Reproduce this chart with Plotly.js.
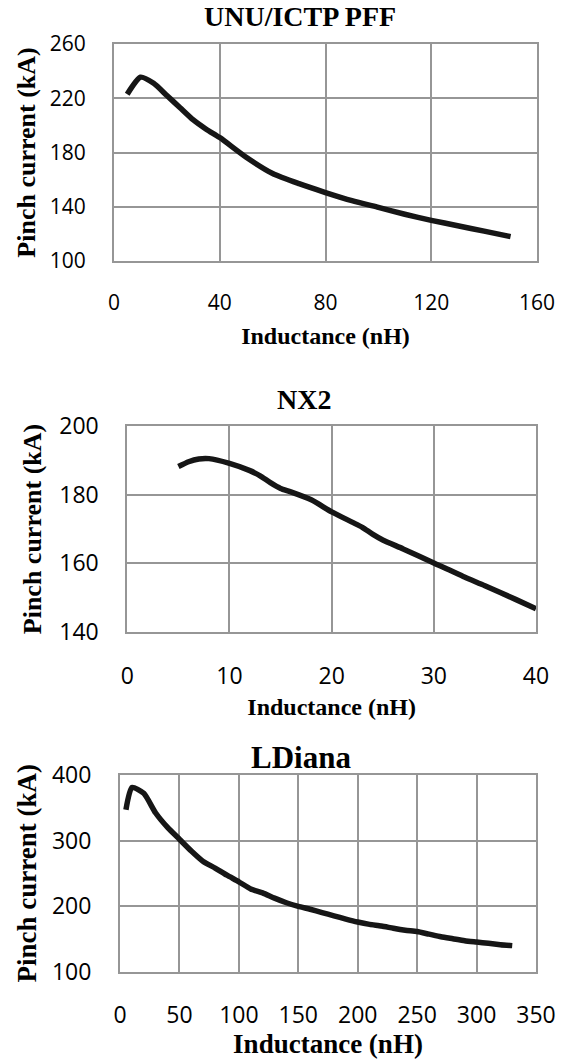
<!DOCTYPE html>
<html>
<head>
<meta charset="utf-8">
<script src="https://cdn.plot.ly/plotly-3.0.1.min.js"></script>
<style>html,body{margin:0;padding:0;background:#fff;}#chart{width:567px;height:1059px;}</style>
</head>
<body>
<div id="chart"></div>
<script>
// ---- Data ----
const titles = ["UNU/ICTP PFF", "NX2", "LDiana"];
const xTitle = "Inductance (nH)";
const yTitle = "Pinch current (kA)";

const unuL = [5, 10, 15, 20, 25, 30, 35, 40, 50, 60, 70, 80, 90, 100, 110, 120, 130, 140, 150];
const unuI = [223, 235.5, 231, 222, 213, 204, 197, 191, 176.5, 164.5, 157, 150.5, 144.5, 139.5, 134.5, 130, 126, 122, 118];

const nx2L = [5, 6, 7, 8, 10, 12, 13, 14, 15, 16, 18, 20, 22, 23, 24, 25, 27, 30, 33, 35, 38, 40];
const nx2I = [188.2, 189.6, 190.4, 190.5, 189.1, 187, 185.5, 183.5, 181.8, 180.8, 178.5, 175, 172, 170.5, 168.5, 166.8, 164.2, 160.1, 156, 153.5, 149.5, 146.8];

const ldL = [5, 10, 20, 30, 40, 50, 60, 70, 80, 90, 100, 110, 120, 130, 140, 150, 160, 170, 180, 190, 200, 210, 220, 230, 240, 250, 260, 270, 280, 290, 300, 310, 320, 330];
const ldI = [347, 381, 372, 342, 320, 302, 284, 268, 258, 247, 237, 226, 220, 212, 205, 199.5, 195, 190, 185, 180, 175.5, 172, 169.5, 166, 163, 161, 157, 153, 150, 147, 145, 143, 141, 139.5];

// ---- Layout helpers ----
const W = 567, H = 1059;
const gridCol = "#969696";
const serif = "Liberation Serif, Times New Roman, serif";
const sans = "Open Sans, sans-serif";

function xax(x0, x1, range, dtick, tickSize, titleSize, anchor, standoffTick, standoffTitle) {
  return {
    domain: [x0 / W, x1 / W], range: range, dtick: dtick, tick0: range[0],
    showgrid: true, gridcolor: gridCol, gridwidth: 2,
    showline: true, linecolor: gridCol, linewidth: 2, mirror: true,
    zeroline: false, ticks: "", ticklabelstandoff: standoffTick,
    tickfont: {family: sans, size: tickSize, color: "#000"},
    title: {text: xTitle, font: {family: serif, size: titleSize, color: "#000", weight: "bold"}, standoff: standoffTitle},
    anchor: anchor, automargin: false, fixedrange: true
  };
}
function yax(yTop, yBot, range, dtick, tickSize, titleSize, anchor, standoffTick, standoffTitle) {
  return {
    domain: [1 - yBot / H, 1 - yTop / H], range: range, dtick: dtick, tick0: range[0],
    showgrid: true, gridcolor: gridCol, gridwidth: 2,
    showline: true, linecolor: gridCol, linewidth: 2, mirror: true,
    zeroline: false, ticks: "", ticklabelstandoff: standoffTick,
    tickfont: {family: sans, size: tickSize, color: "#000"},
    title: {text: yTitle, font: {family: serif, size: titleSize, color: "#000", weight: "bold"}, standoff: standoffTitle},
    anchor: anchor, automargin: false, fixedrange: true
  };
}

const lineStyle = {color: "#161616", width: 5.5, shape: "spline", smoothing: 0.6};

const data = [
  {x: unuL, y: unuI, xaxis: "x", yaxis: "y", mode: "lines", line: lineStyle, hoverinfo: "skip"},
  {x: nx2L, y: nx2I, xaxis: "x2", yaxis: "y2", mode: "lines", line: lineStyle, hoverinfo: "skip"},
  {x: ldL, y: ldI, xaxis: "x3", yaxis: "y3", mode: "lines", line: lineStyle, hoverinfo: "skip"}
];

const layout = {
  width: W, height: H,
  margin: {l: 0, r: 0, t: 0, b: 0},
  paper_bgcolor: "#fff", plot_bgcolor: "#fff",
  showlegend: false,
  xaxis: xax(114, 537, [0, 160], 40, 21, 24, "y", 22, 12),
  yaxis: yax(44, 261, [100, 260], 40, 21, 26, "x", 22, 7),
  xaxis2: xax(127.3, 536, [0, 40], 10, 23, 24, "y2", 22, 9),
  yaxis2: yax(426, 632, [140, 200], 20, 23, 26, "x2", 22, 10),
  xaxis3: xax(120, 536, [0, 350], 50, 23, 27, "y3", 22, 9),
  yaxis3: yax(775, 971.5, [100, 400], 100, 23, 27, "x3", 22, 7),
  annotations: [
    {text: titles[0], x: 300 / W, y: 1 - 16 / H, xref: "paper", yref: "paper", xanchor: "center", yanchor: "middle", showarrow: false, font: {family: serif, size: 28, color: "#000", weight: "bold"}},
    {text: titles[1], x: 304 / W, y: 1 - 399 / H, xref: "paper", yref: "paper", xanchor: "center", yanchor: "middle", showarrow: false, font: {family: serif, size: 28, color: "#000", weight: "bold"}},
    {text: titles[2], x: 301 / W, y: 1 - 757 / H, xref: "paper", yref: "paper", xanchor: "center", yanchor: "middle", showarrow: false, font: {family: serif, size: 31, color: "#000", weight: "bold"}}
  ]
};

Plotly.newPlot("chart", data, layout, {staticPlot: true, displayModeBar: false});
</script>
</body>
</html>
